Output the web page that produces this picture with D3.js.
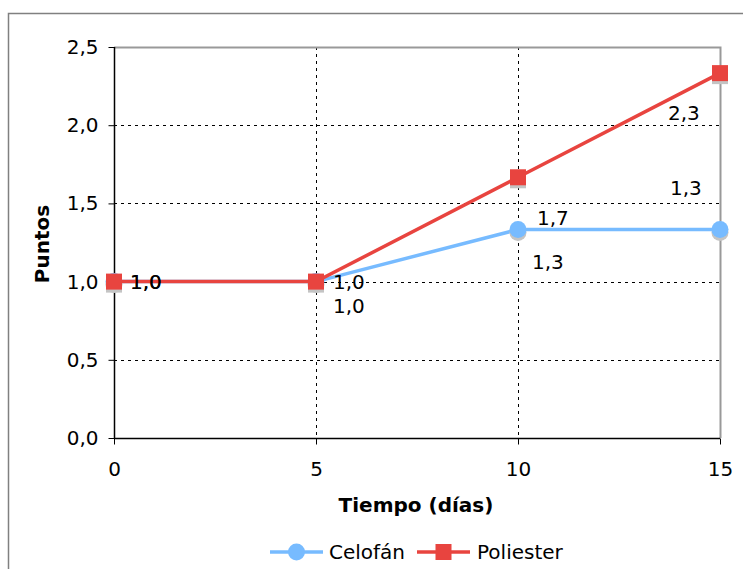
<!DOCTYPE html>
<html>
<head>
<meta charset="utf-8">
<script src="https://cdn.jsdelivr.net/npm/d3@7"></script>
<style>
  body { margin: 0; background: #fff; }
  svg text { font-family: "DejaVu Sans", Verdana, sans-serif; }
</style>
</head>
<body>
<div class="chart"></div>
<script>
var width = 743;
var height = 569;
var days = [0, 5, 10, 15];
var celofan = [1.0, 1.0, 1.333, 1.333];
var poliester = [1.0, 1.0, 1.667, 2.333];
var yTicks = [0, 0.5, 1.0, 1.5, 2.0, 2.5];
var xTicks = [0, 5, 10, 15];

// label offsets (px) as they sit in the original picture
var celofanLabelOff = [[16, 0], [17, 24], [14, 32], [-50, -42]];
var poliesterLabelOff = [[16, 0], [17, 0], [19, 41], [-52, 40]];

var plot = { left: 114, top: 47, right: 720, bottom: 438 };
var fontSize = "20px";

var svg = d3.select(".chart").append("svg")
  .attr("width", width)
  .attr("height", height);

// outer frame
svg.append("rect")
  .attr("x", 8.5).attr("y", 13.5)
  .attr("width", 760).attr("height", 600)
  .style("fill", "none").style("stroke", "#808080").style("stroke-width", 1.5);

var x = d3.scaleLinear().domain([0, 15]).range([plot.left, plot.right]);
var y = d3.scaleLinear().domain([0, 2.5]).range([plot.bottom, plot.top]);
var fmt = function (v) { return d3.format(".1f")(v).replace(".", ","); };

// grid
svg.append("g").selectAll("line").data(yTicks.filter(function (d) { return d > 0 && d < 2.5; }))
  .enter().append("line")
  .attr("x1", plot.left).attr("x2", plot.right)
  .attr("y1", function (d) { return Math.round(y(d)) + 0.5; })
  .attr("y2", function (d) { return Math.round(y(d)) + 0.5; })
  .style("stroke", "#000").style("stroke-dasharray", "3,4");
svg.append("g").selectAll("line").data([5, 10])
  .enter().append("line")
  .attr("y1", plot.top).attr("y2", plot.bottom)
  .attr("x1", function (d) { return Math.round(x(d)) + 0.5; })
  .attr("x2", function (d) { return Math.round(x(d)) + 0.5; })
  .style("stroke", "#000").style("stroke-dasharray", "3,4");

// top and right border
svg.append("path")
  .attr("d", "M" + plot.left + "," + (plot.top + 0.5) + "H" + (plot.right + 0.5) + "V" + plot.bottom)
  .style("fill", "none").style("stroke", "#999").style("stroke-width", 2);

// axes
var yAxis = svg.append("g")
  .attr("transform", "translate(" + (plot.left + 0.5) + ",0)")
  .call(d3.axisLeft(y).tickValues(yTicks).tickFormat(fmt).tickSize(6).tickPadding(10));
var xAxis = svg.append("g")
  .attr("transform", "translate(0," + (plot.bottom + 0.5) + ")")
  .call(d3.axisBottom(x).tickValues(xTicks).tickFormat(d3.format("d")).tickSize(6).tickPadding(17));
[yAxis, xAxis].forEach(function (a) {
  a.select(".domain").style("stroke", "#000").style("stroke-width", 1.5);
  a.selectAll(".tick line").style("stroke", "#000");
  a.selectAll(".tick text").style("font-size", fontSize).style("fill", "#000")
    .style("font-family", "DejaVu Sans, Verdana, sans-serif");
});
xAxis.select(".domain").attr("d", "M" + plot.left + ",0H" + plot.right);
yAxis.select(".domain").attr("d", "M0," + plot.top + "V" + plot.bottom);

// axis titles
svg.append("text")
  .attr("transform", "translate(49,244) rotate(-90)")
  .attr("text-anchor", "middle")
  .style("font-size", fontSize).style("font-weight", "bold")
  .text("Puntos");
svg.append("text")
  .attr("x", 416).attr("y", 512)
  .attr("text-anchor", "middle")
  .style("font-size", fontSize).style("font-weight", "bold")
  .text("Tiempo (días)");

var line = d3.line()
  .x(function (d, i) { return x(days[i]); })
  .y(function (d) { return y(d); });

var series = [
  { name: "Celofán", values: celofan, color: "#77bbff", shape: "circle", off: celofanLabelOff },
  { name: "Poliester", values: poliester, color: "#e8443f", shape: "square", off: poliesterLabelOff }
];

function drawMarker(g, shape, color, cx, cy, shadow) {
  if (shape === "circle") {
    g.append("circle").attr("cx", cx).attr("cy", cy + (shadow ? 3 : 0)).attr("r", 8.5)
      .style("fill", shadow ? "#c4c4c4" : color);
  } else {
    g.append("rect").attr("x", cx - 8).attr("y", cy - 8 + (shadow ? 3 : 0))
      .attr("width", 16).attr("height", 16)
      .style("fill", shadow ? "#c4c4c4" : color);
  }
}

series.forEach(function (s) {
  var g = svg.append("g");
  g.append("path").datum(s.values).attr("d", line)
    .style("fill", "none").style("stroke", s.color).style("stroke-width", 3.5);
  s.values.forEach(function (v, i) {
    drawMarker(g, s.shape, s.color, x(days[i]), y(v), true);
  });
  s.values.forEach(function (v, i) {
    drawMarker(g, s.shape, s.color, x(days[i]), y(v), false);
  });
});

// data labels
series.forEach(function (s) {
  svg.append("g").selectAll("text").data(s.values).enter().append("text")
    .attr("x", function (d, i) { return x(days[i]) + s.off[i][0]; })
    .attr("y", function (d, i) { return y(d) + s.off[i][1]; })
    .attr("dy", "0.35em")
    .style("font-size", fontSize).style("fill", "#000")
    .text(fmt);
});

// legend
var legend = svg.append("g");
var legendItems = [
  { s: series[0], x0: 270, tx: 329 },
  { s: series[1], x0: 417, tx: 477 }
];
legendItems.forEach(function (it) {
  legend.append("line").attr("x1", it.x0).attr("x2", it.x0 + 53)
    .attr("y1", 552).attr("y2", 552)
    .style("stroke", it.s.color).style("stroke-width", 3.5);
  var cx = it.x0 + 26.5;
  if (it.s.shape === "circle") {
    legend.append("circle").attr("cx", cx).attr("cy", 552).attr("r", 8.5).style("fill", it.s.color);
  } else {
    legend.append("rect").attr("x", cx - 8).attr("y", 544).attr("width", 16).attr("height", 16).style("fill", it.s.color);
  }
  legend.append("text").attr("x", it.tx).attr("y", 552).attr("dy", "0.35em")
    .style("font-size", fontSize).text(it.s.name);
});
</script>
</body>
</html>
